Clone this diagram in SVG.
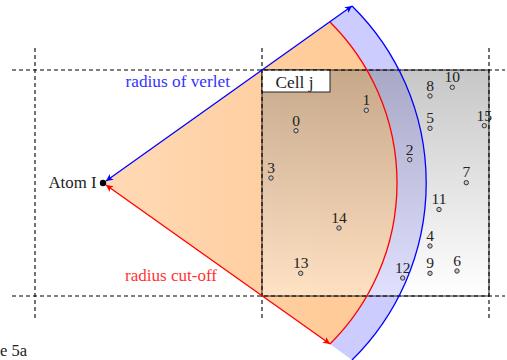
<svg xmlns="http://www.w3.org/2000/svg" width="507" height="360" viewBox="0 0 507 360">
<defs>
<linearGradient id="gOrange" gradientUnits="userSpaceOnUse" x1="103" y1="0" x2="330" y2="0">
<stop offset="0" stop-color="#ffdab7"/>
<stop offset="1" stop-color="#ffcb98"/>
</linearGradient>
<linearGradient id="gCell" gradientUnits="userSpaceOnUse" x1="0" y1="70" x2="0" y2="296">
<stop offset="0" stop-color="#737373"/>
<stop offset="1" stop-color="#ffffff"/>
</linearGradient>
<marker id="arrB" viewBox="0 0 10 10" refX="10" refY="5" markerUnits="userSpaceOnUse" markerWidth="9" markerHeight="7" orient="auto-start-reverse">
<path d="M0,0 L10,5 L0,10 L2.5,5 Z" fill="#0000ff"/>
</marker>
<marker id="arrR" viewBox="0 0 10 10" refX="10" refY="5" markerUnits="userSpaceOnUse" markerWidth="9" markerHeight="7" orient="auto-start-reverse">
<path d="M0,0 L10,5 L0,10 L2.5,5 Z" fill="#ff0000"/>
</marker>
</defs>
<style>
.dash{stroke:#000;stroke-width:1.1;stroke-dasharray:4 3;fill:none}
.lbl{font-family:"Liberation Serif","DejaVu Serif",serif;font-size:15.5px;fill:#222;text-anchor:middle}
.txt{font-family:"Liberation Serif","DejaVu Serif",serif;font-size:16.5px}
.atom{fill:#c8c8c8;stroke:#333;stroke-width:1}
</style>

<g id="regions">
<path id="cutoff-region" d="M103,183 L330,22 A226.9,226.9 0 0 1 330,344 Z" fill="url(#gOrange)"/>
<path id="verlet-band" d="M330,22 L352,6 A248.2,248.2 0 0 1 352,360 L330,344 A226.9,226.9 0 0 0 330,22 Z" fill="#ccccff"/>
</g>

<g id="cell-j">
<rect x="262" y="70" width="227" height="226" fill="url(#gCell)" fill-opacity="0.4" stroke="#222" stroke-width="1"/>
<rect x="262" y="70" width="68" height="22" fill="#fff" stroke="#222" stroke-width="1"/>
<text class="txt" x="294.5" y="88" text-anchor="middle" fill="#222" textLength="38" lengthAdjust="spacingAndGlyphs">Cell j</text>
</g>

<g id="grid">
<line class="dash" x1="12" y1="70" x2="505" y2="70"/>
<line class="dash" x1="12" y1="296" x2="505" y2="296"/>
<line class="dash" x1="35" y1="48" x2="35" y2="318"/>
<line class="dash" x1="262" y1="48" x2="262" y2="318"/>
<line class="dash" x1="489" y1="48" x2="489" y2="318"/>
</g>

<g id="connectors">
<path d="M330,22 A226.9,226.9 0 0 1 330,344" fill="none" stroke="#ff0000" stroke-width="1.3"/>
<path d="M352,6 A248.2,248.2 0 0 1 352,360" fill="none" stroke="#0000ff" stroke-width="1.3"/>
<line x1="106" y1="181" x2="352" y2="6" stroke="#0000ff" stroke-width="1.3" marker-start="url(#arrB)" marker-end="url(#arrB)"/>
<line x1="106" y1="185" x2="330" y2="344" stroke="#ff0000" stroke-width="1.3" marker-start="url(#arrR)" marker-end="url(#arrR)"/>
</g>

<g id="atom-i">
<circle cx="103" cy="183" r="3.2" fill="#000"/>
<text class="txt" x="48.5" y="188" fill="#222" textLength="48" lengthAdjust="spacingAndGlyphs">Atom I</text>
</g>

<g id="labels">
<text class="txt" x="125.5" y="87" fill="#3333ff" textLength="104.5" lengthAdjust="spacingAndGlyphs">radius of verlet</text>
<text class="txt" x="125" y="281" fill="#ff3333" textLength="92" lengthAdjust="spacingAndGlyphs">radius cut-off</text>
<text class="txt" x="0" y="355.5" fill="#222">e 5a</text>
</g>

<g id="atoms">
<g id="a0"><circle class="atom" cx="296" cy="130.7" r="2.2"/><text class="lbl" x="296" y="125.7">0</text></g>
<g id="a1"><circle class="atom" cx="366.3" cy="110.3" r="2.2"/><text class="lbl" x="366.3" y="105.3">1</text></g>
<g id="a2"><circle class="atom" cx="409.7" cy="159.7" r="2.2"/><text class="lbl" x="409.7" y="154.7">2</text></g>
<g id="a3"><circle class="atom" cx="271" cy="178" r="2.2"/><text class="lbl" x="271" y="173">3</text></g>
<g id="a4"><circle class="atom" cx="430" cy="246" r="2.2"/><text class="lbl" x="430" y="241">4</text></g>
<g id="a5"><circle class="atom" cx="430" cy="128.3" r="2.2"/><text class="lbl" x="430" y="123.3">5</text></g>
<g id="a6"><circle class="atom" cx="457" cy="271" r="2.2"/><text class="lbl" x="457" y="266">6</text></g>
<g id="a7"><circle class="atom" cx="466.3" cy="182.7" r="2.2"/><text class="lbl" x="466.3" y="177">7</text></g>
<g id="a8"><circle class="atom" cx="430" cy="96" r="2.2"/><text class="lbl" x="430" y="91">8</text></g>
<g id="a9"><circle class="atom" cx="430" cy="273.3" r="2.2"/><text class="lbl" x="430" y="268.3">9</text></g>
<g id="a10"><circle class="atom" cx="452.3" cy="87.3" r="2.2"/><text class="lbl" x="452.3" y="82.3">10</text></g>
<g id="a11"><circle class="atom" cx="439" cy="209.5" r="2.2"/><text class="lbl" x="439" y="203.5">11</text></g>
<g id="a12"><circle class="atom" cx="402.7" cy="278" r="2.2"/><text class="lbl" x="402.7" y="273">12</text></g>
<g id="a13"><circle class="atom" cx="300.7" cy="273.3" r="2.2"/><text class="lbl" x="300.7" y="268.3">13</text></g>
<g id="a14"><circle class="atom" cx="339" cy="228" r="2.2"/><text class="lbl" x="339" y="223">14</text></g>
<g id="a15"><circle class="atom" cx="484.3" cy="125.7" r="2.2"/><text class="lbl" x="484.3" y="120.7">15</text></g>
</g>
</svg>
